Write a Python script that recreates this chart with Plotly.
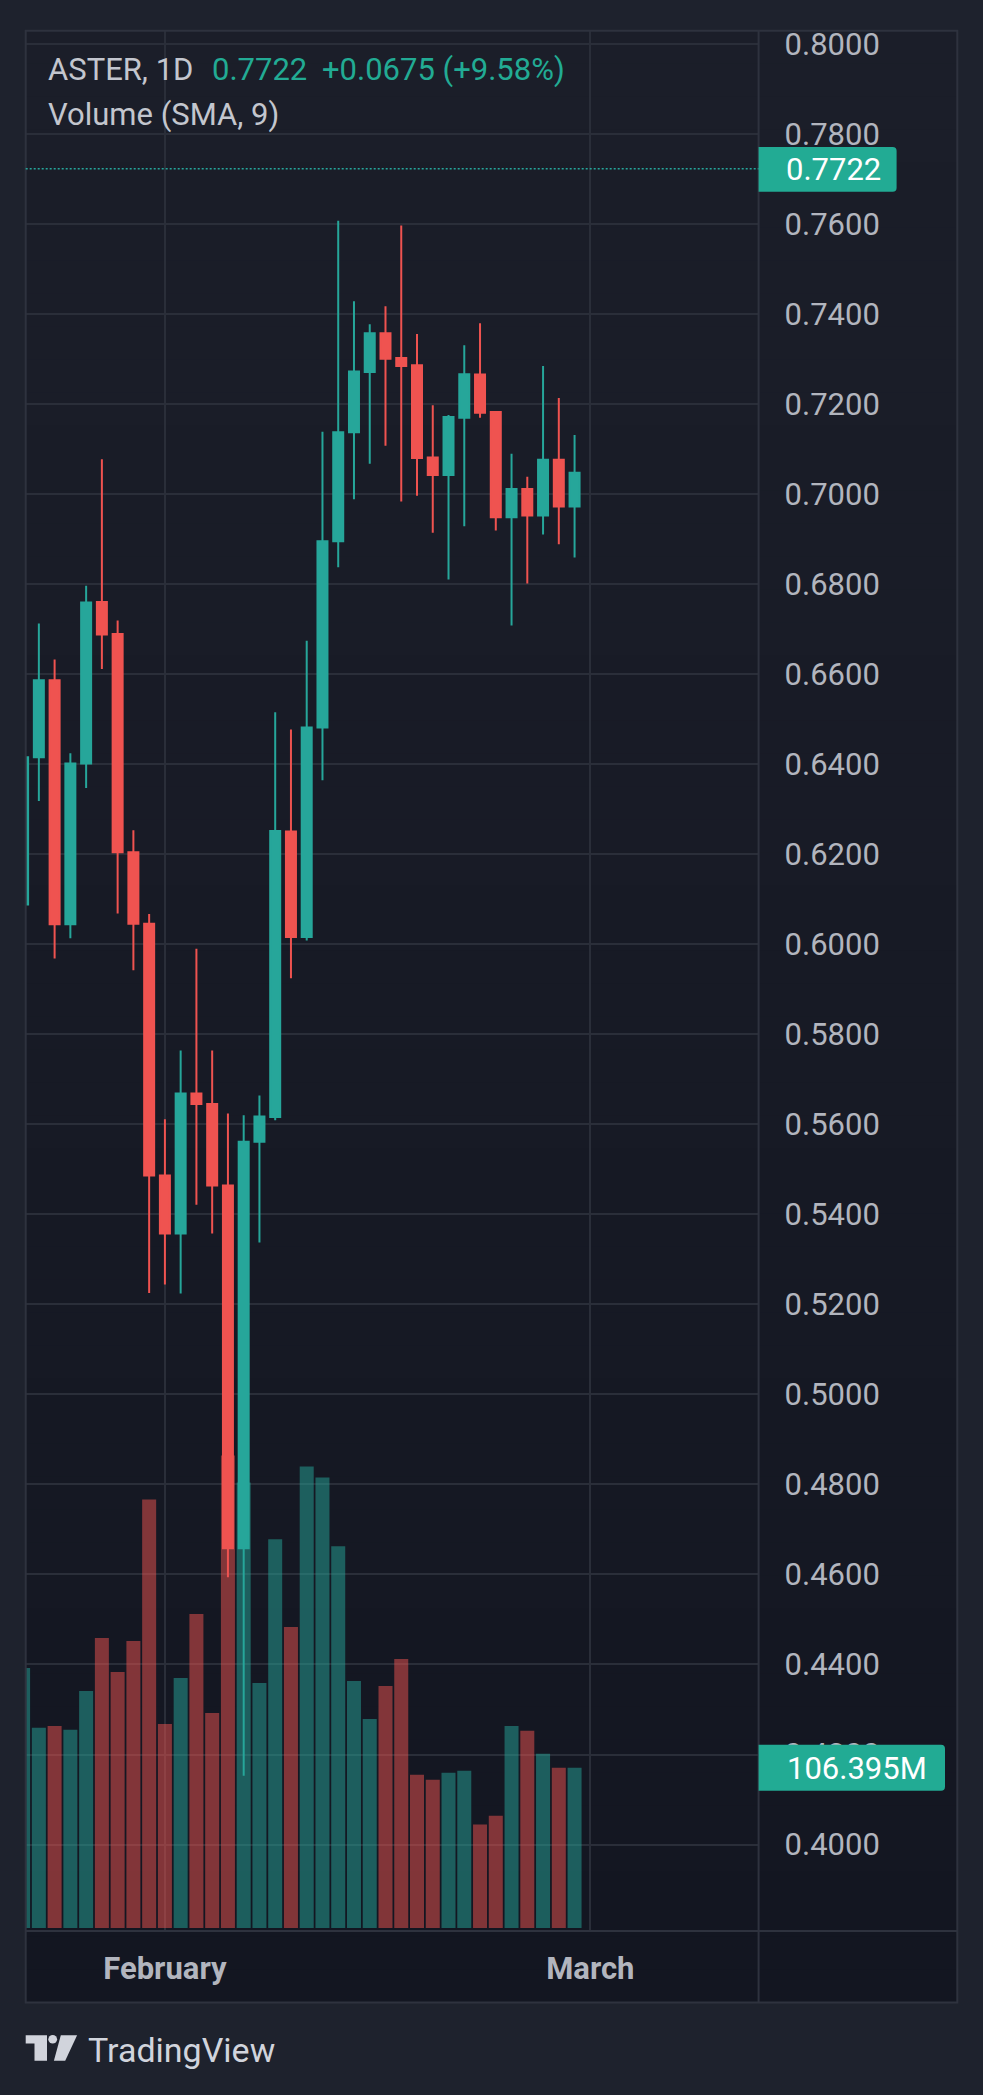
import plotly.graph_objects as go

# ---------------- data ----------------
day_index = list(range(36))
opens  = [0.6088, 0.6415, 0.6586, 0.6044, 0.6401, 0.6760, 0.6689, 0.6204, 0.6045, 0.5486,
          0.5357, 0.5668, 0.5645, 0.5464, 0.4658, 0.5561, 0.5616, 0.6250, 0.6016, 0.6481,
          0.6895, 0.7137, 0.7271, 0.7357, 0.7302, 0.7286, 0.7081, 0.7042, 0.7169, 0.7265,
          0.7182, 0.6948, 0.7011, 0.6952, 0.7076, 0.6972]
highs  = [0.6460, 0.6712, 0.6632, 0.6424, 0.6796, 0.7077, 0.6719, 0.6253, 0.6067, 0.5611,
          0.5764, 0.5990, 0.5764, 0.5624, 0.5620, 0.5664, 0.6515, 0.6477, 0.6674, 0.7138,
          0.7607, 0.7428, 0.7377, 0.7417, 0.7596, 0.7355, 0.7197, 0.7175, 0.7330, 0.7379,
          0.7182, 0.7089, 0.7038, 0.7284, 0.7213, 0.7131]
lows   = [0.6050, 0.6318, 0.5968, 0.6013, 0.6347, 0.6611, 0.6068, 0.5942, 0.5225, 0.5244,
          0.5224, 0.5421, 0.5357, 0.4594, 0.4153, 0.5337, 0.5609, 0.5924, 0.6008, 0.6364,
          0.6837, 0.6988, 0.7067, 0.7107, 0.6983, 0.6996, 0.6914, 0.6810, 0.6928, 0.7169,
          0.6919, 0.6708, 0.6801, 0.6910, 0.6888, 0.6859]
closes = [0.6415, 0.6586, 0.6044, 0.6401, 0.6759, 0.6688, 0.6204, 0.6045, 0.5486, 0.5357,
          0.5668, 0.5645, 0.5464, 0.4658, 0.5561, 0.5617, 0.6251, 0.6016, 0.6481, 0.6895,
          0.7137, 0.7272, 0.7357, 0.7300, 0.7284, 0.7080, 0.7042, 0.7171, 0.7266, 0.7180,
          0.6948, 0.7011, 0.6952, 0.7076, 0.6972, 0.7047]
volumes_m = [172.6, 132.9, 134.2, 131.6, 157.4, 192.5, 170.0, 190.5, 284.5, 135.5,
             166.0, 208.4, 142.8, 313.6, 295.8, 162.7, 258.0, 199.8, 306.4, 299.1,
             253.4, 164.0, 138.8, 160.7, 178.6, 101.8, 98.5, 103.1, 104.4, 68.7,
             74.6, 134.2, 130.9, 115.7, 106.4, 106.395]

month_tick_index = [9, 36]
month_tick_text = ["February", "March"]
price_ticks = [0.40, 0.42, 0.44, 0.46, 0.48, 0.50, 0.52, 0.54, 0.56, 0.58, 0.60,
               0.62, 0.64, 0.66, 0.68, 0.70, 0.72, 0.74, 0.76, 0.78, 0.80]
price_tick_text = ["%.4f" % v for v in price_ticks]

symbol_text = "ASTER, 1D"
last_price = 0.7722
change_text = "+0.0675 (+9.58%)"
volume_title = "Volume (SMA, 9)"
last_volume_text = "106.395M"

# ---------------- styling ----------------
W, H = 983, 2095
UP = "#26a69a"
DOWN = "#ef5350"
LABEL_TEAL = "#22ab94"
UP_VOL = "rgba(38,166,154,0.5)"
DOWN_VOL = "rgba(239,83,80,0.5)"
GRID = "#2a2e39"
BORDER = "#2e323e"
TXT = "#b2b5be"
FONT = "Roboto"


def px(x):
    return x / W


def py(y):
    return 1 - y / H


frame_l, frame_r, frame_t, frame_b = 25.7, 957.3, 25.7, 2002.3
pane_r, pane_b = 758.6, 1930.7

vol_colors = [UP_VOL if c >= o else DOWN_VOL for o, c in zip(opens, closes)]

fig = go.Figure()
fig.add_trace(go.Bar(
    x=day_index, y=volumes_m, width=0.889,
    marker=dict(color=vol_colors, line=dict(width=0)),
    xaxis="x", yaxis="y", hoverinfo="skip", showlegend=False,
))
fig.add_trace(go.Candlestick(
    x=day_index, open=opens, high=highs, low=lows, close=closes,
    increasing=dict(line=dict(color=UP, width=2), fillcolor=UP),
    decreasing=dict(line=dict(color=DOWN, width=2), fillcolor=DOWN),
    whiskerwidth=0, xaxis="x", yaxis="y2", hoverinfo="skip", showlegend=False,
))

shapes = []
# background gradient of chart frame
n = 60
top_c = (27, 30, 41)
bot_c = (19, 22, 33)
for k in range(n):
    t = k / (n - 1)
    col = tuple(round(top_c[j] + (bot_c[j] - top_c[j]) * t) for j in range(3))
    y0 = frame_t + (frame_b - frame_t) * k / n
    y1 = frame_t + (frame_b - frame_t) * (k + 1) / n + 0.6
    shapes.append(dict(type="rect", xref="paper", yref="paper", layer="below",
                       x0=px(frame_l), x1=px(frame_r), y0=py(y0), y1=py(min(y1, frame_b)),
                       fillcolor="rgb(%d,%d,%d)" % col, line=dict(width=0)))
# frame borders and separators
shapes.append(dict(type="rect", xref="paper", yref="paper", layer="above",
                   x0=px(frame_l), x1=px(frame_r), y0=py(frame_t), y1=py(frame_b),
                   line=dict(color=BORDER, width=2), fillcolor="rgba(0,0,0,0)"))
shapes.append(dict(type="line", xref="paper", yref="paper", layer="above",
                   x0=px(pane_r), x1=px(pane_r), y0=py(frame_t), y1=py(frame_b),
                   line=dict(color=BORDER, width=2)))
shapes.append(dict(type="line", xref="paper", yref="paper", layer="above",
                   x0=px(frame_l), x1=px(frame_r), y0=py(pane_b), y1=py(pane_b),
                   line=dict(color=BORDER, width=2)))
# last price dotted line
shapes.append(dict(type="line", xref="paper", yref="y2", layer="above",
                   x0=px(frame_l), x1=px(pane_r), y0=last_price, y1=last_price,
                   line=dict(color=UP, width=1.5, dash="2px,2px")))


def rounded_right_box(x0, x1, y0, y1, r):
    X0, X1 = px(x0), px(x1)
    return ("M {a},{b} L {c},{b} Q {d},{b} {d},{e} L {d},{f} Q {d},{g} {c},{g} L {a},{g} Z"
            .format(a=X0, b=py(y0), c=px(x1 - r), d=X1, e=py(y0 + r), f=py(y1 - r), g=py(y1)))


shapes.append(dict(type="path", xref="paper", yref="paper", layer="above",
                   path=rounded_right_box(pane_r, 896.6, 142.3, 187.3, 4),
                   fillcolor=LABEL_TEAL, line=dict(width=0)))
shapes.append(dict(type="path", xref="paper", yref="paper", layer="above",
                   path=rounded_right_box(pane_r, 945.0, 1744.0, 1790.0, 4),
                   fillcolor=LABEL_TEAL, line=dict(width=0)))

# TradingView logo
LOGO = "#d1d4dc"
shapes.append(dict(type="path", xref="paper", yref="paper", layer="above",
                   path="M {},{} L {},{} L {},{} L {},{} L {},{} L {},{} Z".format(
                       px(25.7), py(2035), px(47.0), py(2035), px(47.0), py(2060.7),
                       px(34.5), py(2060.7), px(34.5), py(2043.3), px(25.7), py(2043.3)),
                   fillcolor=LOGO, line=dict(width=0)))
shapes.append(dict(type="circle", xref="paper", yref="paper", layer="above",
                   x0=px(48.3), x1=px(57.1), y0=py(2034.8), y1=py(2043.4),
                   fillcolor=LOGO, line=dict(width=0)))
shapes.append(dict(type="path", xref="paper", yref="paper", layer="above",
                   path="M {},{} L {},{} L {},{} L {},{} Z".format(
                       px(60.8), py(2035), px(77.1), py(2035), px(65.2), py(2060.7),
                       px(53.9), py(2060.7)),
                   fillcolor=LOGO, line=dict(width=0)))

annotations = [
    dict(text=symbol_text, x=px(47), y=py(65.0), font=dict(family=FONT, size=31, color="#c3c6ce")),
    dict(text="%.4f" % last_price, x=px(211), y=py(65.0), font=dict(family=FONT, size=31, color=LABEL_TEAL)),
    dict(text=change_text, x=px(321), y=py(65.0), font=dict(family=FONT, size=31, color=LABEL_TEAL)),
    dict(text=volume_title, x=px(47), y=py(109.6), font=dict(family=FONT, size=31, color="#c3c6ce")),
    dict(text="%.4f" % last_price, x=px(784.5), y=py(165.3), font=dict(family=FONT, size=31, color="#ffffff")),
    dict(text=last_volume_text, x=px(785.5), y=py(1767.5), font=dict(family=FONT, size=31, color="#ffffff")),
    dict(text="TradingView", x=px(86.5), y=py(2050), font=dict(family=FONT, size=34, color=LOGO)),
]
for a in annotations:
    a.update(xref="paper", yref="paper", xanchor="left", yanchor="middle",
             showarrow=False, borderpad=0)

x_dom = [px(frame_l), px(pane_r)]
y_dom = [py(pane_b), py(frame_t)]

fig.update_layout(
    width=W, height=H, autosize=False,
    margin=dict(l=0, r=0, t=0, b=0, pad=0),
    paper_bgcolor="#1e222d", plot_bgcolor="rgba(0,0,0,0)",
    boxgap=0.365, boxgroupgap=0.0, bargap=0.1,
    showlegend=False, hovermode=False,
    shapes=shapes, annotations=annotations,
    xaxis=dict(domain=x_dom, range=[0.165, 46.68], tickmode="array",
               tickvals=month_tick_index, ticktext=month_tick_text,
               tickfont=dict(family=FONT, size=31, color=TXT, weight="bold"),
               showgrid=True, gridcolor=GRID, gridwidth=2, zeroline=False,
               showline=False, ticks="", ticklabelstandoff=16,
               rangeslider=dict(visible=False), fixedrange=True),
    yaxis=dict(domain=y_dom, range=[-1.99, 1259.3], visible=False,
               showgrid=False, zeroline=False, fixedrange=True),
    yaxis2=dict(domain=y_dom, range=[0.38078, 0.8029], overlaying="y", side="right",
                anchor="x", tickmode="array", tickvals=price_ticks, ticktext=price_tick_text,
                tickfont=dict(family=FONT, size=31, color=TXT),
                showgrid=True, gridcolor=GRID, gridwidth=2, zeroline=False,
                showline=False, ticks="", ticklabelstandoff=25, fixedrange=True),
)

fig.write_html("out.html", include_plotlyjs=True, full_html=True,
               config={"displayModeBar": False, "staticPlot": True},
               post_script="document.body.style.margin='0';document.body.style.background='#1e222d';")
